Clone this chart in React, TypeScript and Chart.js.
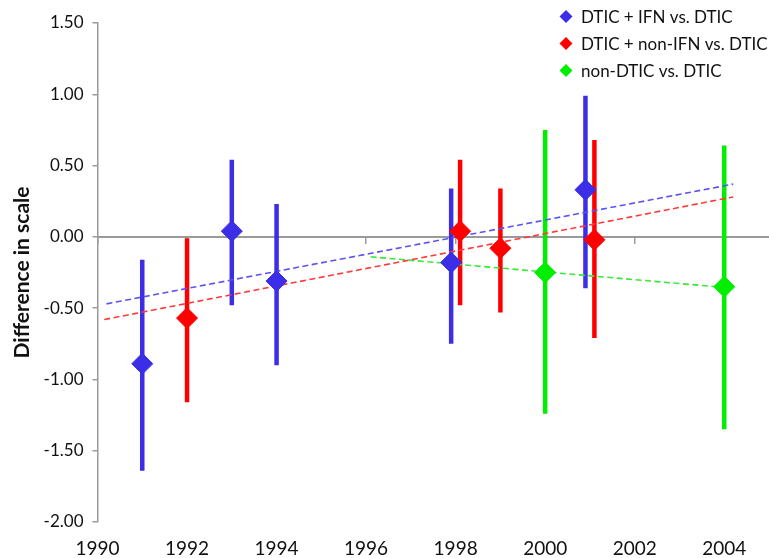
import React, { useEffect, useRef } from "react";
import { Chart, registerables } from "chart.js";

Chart.register(...registerables);

// ---------- data ----------
const legendLabels = ["DTIC + IFN vs. DTIC", "DTIC + non-IFN vs. DTIC", "non-DTIC vs. DTIC"];
const seriesColors = ["#3C2EE6", "#FF0000", "#00EE00"];
const trendColors = ["#5B52F2", "#FF3A3A", "#3AE83A"];

const ifnYears = [1991, 1993, 1994, 1997.9, 2000.9];
const ifnMean = [-0.89, 0.04, -0.31, -0.18, 0.33];
const ifnLow = [-1.64, -0.48, -0.9, -0.75, -0.36];
const ifnHigh = [-0.16, 0.54, 0.23, 0.34, 0.99];

const nonIfnYears = [1992, 1998.1, 1999, 2001.1];
const nonIfnMean = [-0.57, 0.04, -0.08, -0.02];
const nonIfnLow = [-1.16, -0.48, -0.53, -0.71];
const nonIfnHigh = [-0.01, 0.54, 0.34, 0.68];

const nonDticYears = [2000, 2004];
const nonDticMean = [-0.25, -0.35];
const nonDticLow = [-1.24, -1.35];
const nonDticHigh = [0.75, 0.64];

const ifnTrendX = [1990.2, 2004.2];
const ifnTrendY = [-0.47, 0.37];
const nonIfnTrendX = [1990.15, 2004.2];
const nonIfnTrendY = [-0.58, 0.28];
const nonDticTrendX = [1996.1, 2004.2];
const nonDticTrendY = [-0.14, -0.36];

const xTickValues = [1990, 1992, 1994, 1996, 1998, 2000, 2002, 2004];
const xMin = 1990;
const xMax = 2005;
const yMin = -2;
const yMax = 1.5;
const yStep = 0.5;
const yTitle = "Difference in scale";

// ---------- helpers ----------
const FONT = "Lato, 'Noto Sans', sans-serif";
const AXIS_GRAY = "#9a9a9a";

const seriesList = [
  { years: ifnYears, mean: ifnMean, low: ifnLow, high: ifnHigh, tx: ifnTrendX, ty: ifnTrendY },
  { years: nonIfnYears, mean: nonIfnMean, low: nonIfnLow, high: nonIfnHigh, tx: nonIfnTrendX, ty: nonIfnTrendY },
  { years: nonDticYears, mean: nonDticMean, low: nonDticLow, high: nonDticHigh, tx: nonDticTrendX, ty: nonDticTrendY },
];

function buildDatasets() {
  const ds: any[] = [];
  seriesList.forEach((s, i) => {
    ds.push({
      type: "line",
      label: legendLabels[i],
      data: s.years.map((x, k) => ({ x, y: s.mean[k] })),
      showLine: false,
      pointStyle: "rectRot",
      pointRadius: 10.5,
      pointBackgroundColor: seriesColors[i],
      pointBorderColor: seriesColors[i],
      pointBorderWidth: 1,
      order: 0,
    });
  });
  seriesList.forEach((s, i) => {
    const pts: any[] = [];
    s.years.forEach((x, k) => {
      pts.push({ x, y: s.low[k] });
      pts.push({ x, y: s.high[k] });
      pts.push({ x, y: null });
    });
    ds.push({
      type: "line",
      label: legendLabels[i] + " CI",
      data: pts,
      borderColor: seriesColors[i],
      borderWidth: 4.5,
      borderCapStyle: "butt",
      pointRadius: 0,
      spanGaps: false,
      order: 2,
    });
  });
  seriesList.forEach((s, i) => {
    ds.push({
      type: "line",
      label: legendLabels[i] + " trend",
      data: s.tx.map((x, k) => ({ x, y: s.ty[k] })),
      borderColor: trendColors[i],
      borderWidth: 1.6,
      borderDash: [6, 3.5],
      pointRadius: 0,
      order: 1,
    });
  });
  return ds;
}

const legendPlugin = {
  id: "diamondLegend",
  afterDraw(chart: any) {
    const ctx = chart.ctx as CanvasRenderingContext2D;
    ctx.save();
    legendLabels.forEach((t, i) => {
      const cy = 16.5 + i * 27;
      const cx = 566;
      const r = 6.5;
      ctx.beginPath();
      ctx.moveTo(cx, cy - r);
      ctx.lineTo(cx + r, cy);
      ctx.lineTo(cx, cy + r);
      ctx.lineTo(cx - r, cy);
      ctx.closePath();
      ctx.fillStyle = seriesColors[i];
      ctx.fill();
      ctx.fillStyle = "#111";
      ctx.font = `17px ${FONT}`;
      ctx.textBaseline = "middle";
      ctx.textAlign = "left";
      ctx.fillText(t, 581, cy + 1);
    });
    ctx.restore();
  },
};

const setXTicks = (axis: any) => {
  axis.ticks = xTickValues.map((v) => ({ value: v }));
};

const noSidePadding = (s: any) => {
  s.paddingLeft = 0;
  s.paddingRight = 0;
};

export default function App() {
  const ref = useRef<HTMLCanvasElement | null>(null);

  useEffect(() => {
    document.body.style.margin = "0";
    const canvas = ref.current;
    if (!canvas) return;
    const chart = new Chart(canvas, {
      type: "line",
      data: { datasets: buildDatasets() },
      options: {
        animation: false,
        responsive: false,
        events: [],
        layout: { autoPadding: false, padding: { top: 23, right: 0, left: 0, bottom: 0 } },
        plugins: {
          legend: { display: false },
          tooltip: { enabled: false },
        },
        scales: {
          x: {
            type: "linear",
            position: "bottom",
            min: xMin,
            max: xMax,
            ticks: {
              padding: 7,
              color: "#111",
              font: { family: FONT, size: 19 },
              maxRotation: 0,
              autoSkip: false,
              callback: (v: any) => String(v),
            },
            afterBuildTicks: setXTicks,
            afterFit: (s: any) => {
              s.height = 36;
              noSidePadding(s);
            },
            grid: { display: false },
            border: { display: false },
          },
          xz: {
            type: "linear",
            position: { y: 0 } as any,
            min: xMin,
            max: xMax,
            ticks: { display: false },
            afterBuildTicks: setXTicks,
            afterFit: noSidePadding,
            grid: { drawOnChartArea: false, drawTicks: true, tickLength: 6, color: AXIS_GRAY, lineWidth: 1.5 },
            border: { display: true, color: AXIS_GRAY, width: 2 },
          },
          y: {
            type: "linear",
            position: "left",
            min: yMin,
            max: yMax,
            ticks: {
              stepSize: yStep,
              padding: 9,
              color: "#111",
              font: { family: FONT, size: 17 },
              callback: (v: any) => Number(v).toFixed(2),
            },
            afterFit: (s: any) => {
              s.width = 97.5;
            },
            title: {
              display: true,
              text: yTitle,
              color: "#111",
              font: { family: FONT, size: 21, weight: "bold" },
              padding: { top: 10, bottom: 0 },
            },
            grid: { drawOnChartArea: false, drawTicks: true, tickLength: 5, color: AXIS_GRAY, lineWidth: 1.5 },
            border: { display: true, color: AXIS_GRAY, width: 1.5 },
          },
        },
      } as any,
      plugins: [legendPlugin],
    });
    return () => chart.destroy();
  }, []);

  return (
    <div style={{ position: "relative", width: 769, height: 558, background: "#fff" }}>
      <canvas ref={ref} width={769} height={558} style={{ display: "block" }} />
    </div>
  );
}
